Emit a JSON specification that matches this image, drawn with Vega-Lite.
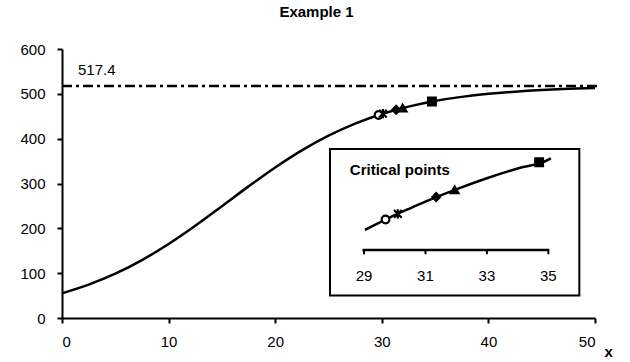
{
  "$schema": "https://vega.github.io/schema/vega-lite/v6.json",
  "width": 533,
  "height": 269,
  "autosize": {"type": "none"},
  "padding": {"left": 62, "top": 49, "right": 35, "bottom": 44},
  "background": "white",
  "config": {
    "view": {"stroke": null},
    "font": "Liberation Sans",
    "axis": {
      "domainColor": "black", "domainWidth": 2, "tickColor": "black", "tickWidth": 2, "tickSize": 5,
      "labelColor": "black", "labelFontSize": 15, "labelFont": "Liberation Sans", "grid": false, "labelPadding": 11
    }
  },
  "title": {"text": "Example 1", "fontSize": 15, "fontWeight": "bold", "font": "Liberation Sans", "color": "black", "anchor": "middle", "dx": -12, "offset": 22},
  "datasets": {
    "curve": [
      {"x": 0, "y": 55.0}, {"x": 2.5, "y": 74.3}, {"x": 5, "y": 98.8}, {"x": 7.5, "y": 129.2}, {"x": 10, "y": 165.1},
      {"x": 12.5, "y": 205.8}, {"x": 15, "y": 249.5}, {"x": 17.5, "y": 293.6}, {"x": 20, "y": 335.8}, {"x": 22.5, "y": 373.9},
      {"x": 25, "y": 406.7}, {"x": 27.5, "y": 433.6}, {"x": 30, "y": 455.0}, {"x": 32.5, "y": 471.5}, {"x": 35, "y": 484.0},
      {"x": 37.5, "y": 493.2}, {"x": 40, "y": 500.0}, {"x": 42.5, "y": 504.9}, {"x": 45, "y": 508.5}, {"x": 47.5, "y": 511.1},
      {"x": 50, "y": 512.9}
    ],
    "inset": [
      {"x": 29.03, "y": 447.3}, {"x": 29.5, "y": 451.1}, {"x": 30, "y": 455.0}, {"x": 30.5, "y": 458.6}, {"x": 31, "y": 462.1},
      {"x": 32, "y": 468.5}, {"x": 33, "y": 474.3}, {"x": 34, "y": 479.4}, {"x": 35, "y": 484.0}, {"x": 35.08, "y": 484.8}
    ],
    "markers": [
      {"x": 29.7, "y": 452.7, "m": "circle"},
      {"x": 30.1, "y": 455.7, "m": "star"},
      {"x": 31.35, "y": 464.5, "m": "diamond"},
      {"x": 31.95, "y": 468.2, "m": "triangle"},
      {"x": 34.7, "y": 482.7, "m": "square"}
    ],
    "ticks": [{"x": 29, "label": "29"}, {"x": 31, "label": "31"}, {"x": 33, "label": "33"}, {"x": 35, "label": "35"}]
  },
  "layer": [
    {
      "layer": [
        {
          "data": {"name": "curve"},
          "mark": {"type": "line", "color": "black", "strokeWidth": 2.5, "interpolate": "monotone"},
          "encoding": {
            "x": {"field": "x", "type": "quantitative", "scale": {"domain": [0, 50], "nice": false},
                  "axis": {"values": [0, 10, 20, 30, 40, 50], "title": "x", "titleFontSize": 15, "titleFontWeight": "bold", "titleColor": "black",
                           "titleAnchor": "start", "titleAlign": "left", "titleBaseline": "alphabetic", "titleX": 542, "titleY": 38}},
            "y": {"field": "y", "type": "quantitative", "scale": {"domain": [0, 600], "nice": false},
                  "axis": {"values": [0, 100, 200, 300, 400, 500, 600], "title": null, "labelPadding": 12}}
          }
        },
        {
          "data": {"values": [{"x": 0, "x2": 50.2, "y": 517.4}]},
          "mark": {"type": "rule", "color": "black", "strokeWidth": 2.5, "strokeDash": [10, 4, 3, 4]},
          "encoding": {
            "x": {"field": "x", "type": "quantitative"},
            "x2": {"field": "x2"},
            "y": {"field": "y", "type": "quantitative"}
          }
        },
        {
          "data": {"values": [{"x": 1.5, "y": 517.4, "label": "517.4"}]},
          "mark": {"type": "text", "align": "left", "baseline": "alphabetic", "dy": -11, "fontSize": 15, "color": "black"},
          "encoding": {
            "x": {"field": "x", "type": "quantitative"},
            "y": {"field": "y", "type": "quantitative"},
            "text": {"field": "label"}
          }
        },
        {
          "data": {"name": "markers"},
          "mark": {"type": "point", "filled": true, "stroke": "black", "strokeWidth": 2.2, "opacity": 1},
          "encoding": {
            "x": {"field": "x", "type": "quantitative"},
            "y": {"field": "y", "type": "quantitative"},
            "shape": {"field": "m", "type": "nominal", "legend": null,
                      "scale": {"domain": ["circle", "star", "diamond", "triangle", "square"],
                                "range": ["circle", "M-1,-1L1,1M-1,1L1,-1M0,-1.2L0,1.2", "diamond", "triangle-up", "square"]}},
            "fill": {"field": "m", "type": "nominal", "legend": null,
                     "scale": {"domain": ["circle", "star", "diamond", "triangle", "square"], "range": ["white", "transparent", "black", "black", "black"]}},
            "size": {"field": "m", "type": "ordinal", "legend": null,
                     "scale": {"domain": ["circle", "star", "diamond", "triangle", "square"], "range": [60, 60, 120, 110, 125]}}
          }
        },
        {
          "data": {"values": [{"x": 25.14, "x2": 48.53, "y": 376.8, "y2": 50.4}]},
          "mark": {"type": "rect", "fill": "white", "stroke": "black", "strokeWidth": 2},
          "encoding": {
            "x": {"field": "x", "type": "quantitative"},
            "x2": {"field": "x2"},
            "y": {"field": "y", "type": "quantitative"},
            "y2": {"field": "y2"}
          }
        },
        {
          "data": {"values": [{"x": 27.0, "y": 330.6, "label": "Critical points"}]},
          "mark": {"type": "text", "align": "left", "baseline": "middle", "fontSize": 15, "fontWeight": "bold", "color": "black"},
          "encoding": {
            "x": {"field": "x", "type": "quantitative"},
            "y": {"field": "y", "type": "quantitative"},
            "text": {"field": "label"}
          }
        }
      ]
    },
    {
      "layer": [
        {
          "data": {"name": "inset"},
          "mark": {"type": "line", "color": "black", "strokeWidth": 2.5, "interpolate": "monotone"},
          "encoding": {
            "x": {"field": "x", "type": "quantitative", "scale": {"domain": [19.169, 36.519], "nice": false, "zero": false}, "axis": null},
            "y": {"field": "y", "type": "quantitative", "scale": {"domain": [401.3, 541.8], "nice": false, "zero": false}, "axis": null}
          }
        },
        {
          "data": {"values": [{"x": 28.95, "x2": 35.03, "y": 436.8}]},
          "mark": {"type": "rule", "color": "black", "strokeWidth": 2.5},
          "encoding": {
            "x": {"field": "x", "type": "quantitative"},
            "x2": {"field": "x2"},
            "y": {"field": "y", "type": "quantitative"}
          }
        },
        {
          "data": {"name": "ticks"},
          "mark": {"type": "rule", "color": "black", "strokeWidth": 2},
          "encoding": {
            "x": {"field": "x", "type": "quantitative"},
            "y": {"datum": 436.8, "type": "quantitative"},
            "y2": {"datum": 434.6}
          }
        },
        {
          "data": {"name": "ticks"},
          "mark": {"type": "text", "baseline": "middle", "align": "center", "dy": 26, "fontSize": 15, "color": "black"},
          "encoding": {
            "x": {"field": "x", "type": "quantitative"},
            "y": {"datum": 436.8, "type": "quantitative"},
            "text": {"field": "label"}
          }
        },
        {
          "data": {"name": "markers"},
          "mark": {"type": "point", "filled": true, "stroke": "black", "strokeWidth": 2.2, "opacity": 1},
          "encoding": {
            "x": {"field": "x", "type": "quantitative"},
            "y": {"field": "y", "type": "quantitative"},
            "shape": {"field": "m", "type": "nominal", "legend": null,
                      "scale": {"domain": ["circle", "star", "diamond", "triangle", "square"],
                                "range": ["circle", "M-1,-1L1,1M-1,1L1,-1M0,-1.2L0,1.2", "diamond", "triangle-up", "square"]}},
            "fill": {"field": "m", "type": "nominal", "legend": null,
                     "scale": {"domain": ["circle", "star", "diamond", "triangle", "square"], "range": ["white", "transparent", "black", "black", "black"]}},
            "size": {"field": "m", "type": "ordinal", "legend": null,
                     "scale": {"domain": ["circle", "star", "diamond", "triangle", "square"], "range": [60, 60, 120, 110, 125]}}
          }
        }
      ]
    }
  ],
  "resolve": {"scale": {"x": "independent", "y": "independent", "shape": "shared", "fill": "shared", "size": "shared"}}
}
